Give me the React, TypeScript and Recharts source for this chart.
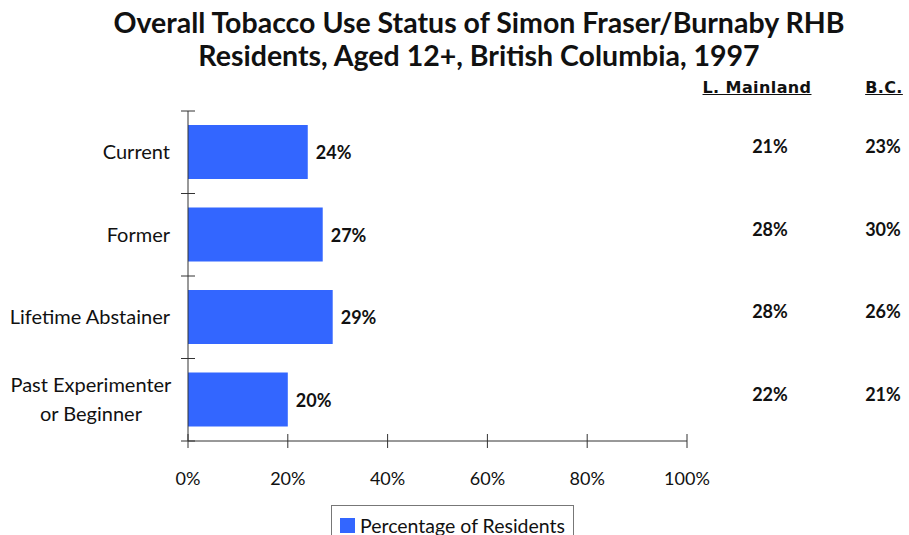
import React from "react";
import {
  BarChart,
  Bar,
  XAxis,
  YAxis,
  Legend,
  LabelList,
} from "recharts";

const categories = ["Current", "Former", "Lifetime Abstainer", "Past Experimenter\nor Beginner"];
const residents = [24, 27, 29, 20];
const lowerMainland = [21, 28, 28, 22];
const britishColumbia = [23, 30, 26, 21];
const xTicks = [0, 20, 40, 60, 80, 100];

const FONT = "Lato, 'Liberation Sans', sans-serif";
const WIDE = "'DejaVu Sans', Verdana, sans-serif";
const BLUE = "#3366FF";
const AXIS = "#333";

const data = categories.map((c, i) => ({ category: c, residents: residents[i] }));

// category label plus the small cross ticks on the band boundaries
function CategoryTick(props: any) {
  const { x, y, payload, index, visibleTicksCount } = props;
  const half = payload.offset || 41;
  const ax = x + 18;
  const lines = String(payload.value).split("\n");
  const lh = 29;
  const start = y - ((lines.length - 1) * lh) / 2;
  const last = index === (visibleTicksCount ?? categories.length) - 1;
  // multi-line labels are centred as a block, right edge on the axis gap
  const multi = lines.length > 1;
  const blockW = Math.max(...lines.map((l) => l.length)) * 9.3;
  const tx = multi ? x - blockW / 2 : x;
  return (
    <g>
      <line x1={ax - 7} x2={ax + 7} y1={y - half} y2={y - half} stroke={AXIS} />
      {last && <line x1={ax - 7} x2={ax + 7} y1={y + half} y2={y + half} stroke={AXIS} />}
      <text x={tx} textAnchor={multi ? "middle" : "end"} fontFamily={FONT} fontSize={20} fill="#111">
        {lines.map((l, i) => (
          <tspan key={i} x={tx} y={start + i * lh} dy="0.35em">
            {l}
          </tspan>
        ))}
      </text>
    </g>
  );
}

function PercentTick(props: any) {
  const { x, y, payload } = props;
  return (
    <g>
      <line x1={x} x2={x} y1={y - 7} y2={y + 7} stroke={AXIS} strokeWidth={1} />
      <text x={x} y={y + 44} textAnchor="middle" fontFamily={FONT} fontSize={18} fill="#111">
        {payload.value}%
      </text>
    </g>
  );
}

function RowLabels(props: any) {
  const { x, y, width, height, index, value } = props;
  const cy = y + height / 2;
  const style = { fontFamily: FONT, fontSize: 18, fontWeight: 700, fill: "#111" };
  return (
    <g>
      <text x={x + width + 8} y={cy + 1} dy="0.35em" {...style}>
        {value}%
      </text>
      <text x={770} y={cy - 5} dy="0.35em" textAnchor="middle" {...style}>
        {lowerMainland[index]}%
      </text>
      <text x={883} y={cy - 5} dy="0.35em" textAnchor="middle" {...style}>
        {britishColumbia[index]}%
      </text>
    </g>
  );
}

function LegendBox() {
  return (
    <div
      style={{
        border: "1px solid #777",
        width: 243,
        height: 40,
        boxSizing: "border-box",
        display: "flex",
        alignItems: "center",
        justifyContent: "center",
        fontFamily: FONT,
        fontSize: 19.5,
        color: "#111",
      }}
    >
      <span style={{ width: 15, height: 15, background: BLUE, marginRight: 5 }} />
      Percentage of Residents
    </div>
  );
}

const headerStyle: React.CSSProperties = {
  position: "absolute",
  top: 78,
  textAlign: "center",
  fontFamily: WIDE,
  fontWeight: 700,
  fontSize: 16,
  letterSpacing: 0.4,
  textDecoration: "underline",
  color: "#111",
};

export default function App() {
  return (
    <div style={{ position: "absolute", left: 0, top: 0, width: 909, height: 535, background: "#fff", overflow: "hidden" }}>
      <div
        style={{
          position: "absolute",
          left: 80,
          width: 798,
          top: 6,
          textAlign: "center",
          fontFamily: FONT,
          fontWeight: 700,
          fontSize: 28.5,
          lineHeight: "33px",
          color: "#111",
        }}
      >
        Overall Tobacco Use Status of Simon Fraser/Burnaby RHB
        <br />
        Residents, Aged 12+, British Columbia, 1997
      </div>
      <div style={{ ...headerStyle, left: 696, width: 122 }}>L. Mainland</div>
      <div style={{ ...headerStyle, left: 856, width: 56 }}>B.C.</div>
      <BarChart
        width={909}
        height={535}
        data={data}
        layout="vertical"
        margin={{ top: 111, right: 222, bottom: 0, left: 0 }}
        barCategoryGap="17%"
      >
        <XAxis
          type="number"
          domain={[0, 100]}
          ticks={xTicks}
          interval={0}
          tickSize={0}
          tickMargin={0}
          tickLine={false}
          height={94}
          stroke={AXIS}
          tick={<PercentTick />}
        />
        <YAxis
          type="category"
          dataKey="category"
          width={188}
          tickSize={0}
          tickMargin={18}
          tickLine={false}
          stroke={AXIS}
          tick={<CategoryTick />}
        />
        <Legend
          layout="horizontal"
          verticalAlign="middle"
          content={<LegendBox />}
          wrapperStyle={{ left: 331, top: 505, width: 243 }}
        />
        <Bar dataKey="residents" name="Percentage of Residents" fill={BLUE} isAnimationActive={false}>
          <LabelList dataKey="residents" content={<RowLabels />} />
        </Bar>
      </BarChart>
    </div>
  );
}
